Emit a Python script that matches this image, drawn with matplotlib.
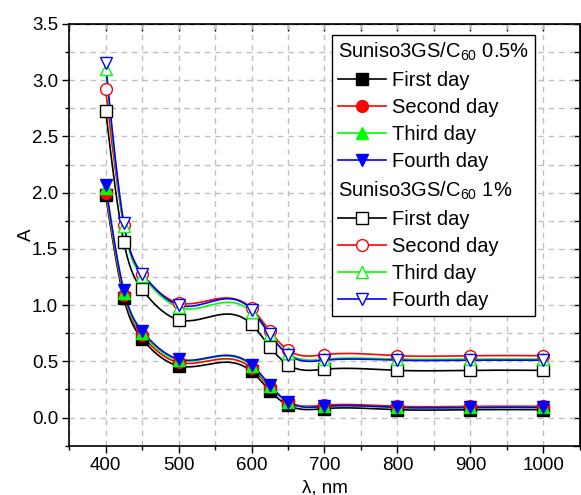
import numpy as np
import matplotlib
matplotlib.use('Agg')
from matplotlib import pyplot as plt
from matplotlib.lines import Line2D
from matplotlib.ticker import MultipleLocator

# wavelength, nm
wl = [400, 425, 450, 500, 600, 625, 650, 700, 800, 900, 1000]

# Suniso3GS/C60 0.5 %
day1_05 = [1.98, 1.06, 0.70, 0.46, 0.41, 0.24, 0.11, 0.08, 0.07, 0.07, 0.07]
day2_05 = [2.00, 1.09, 0.73, 0.49, 0.44, 0.27, 0.14, 0.11, 0.10, 0.10, 0.10]
day3_05 = [2.04, 1.11, 0.75, 0.51, 0.46, 0.28, 0.14, 0.10, 0.09, 0.09, 0.09]
day4_05 = [2.07, 1.13, 0.77, 0.52, 0.47, 0.29, 0.14, 0.10, 0.09, 0.09, 0.09]

# Suniso3GS/C60 1 %
day1_1 = [2.73, 1.56, 1.14, 0.87, 0.83, 0.63, 0.47, 0.43, 0.42, 0.42, 0.42]
day2_1 = [2.92, 1.71, 1.28, 1.02, 0.97, 0.77, 0.60, 0.56, 0.55, 0.55, 0.55]
day3_1 = [3.10, 1.70, 1.26, 0.98, 0.94, 0.74, 0.57, 0.52, 0.52, 0.52, 0.52]
day4_1 = [3.15, 1.73, 1.28, 1.00, 0.96, 0.74, 0.56, 0.51, 0.51, 0.51, 0.51]

day_names = ['First day', 'Second day', 'Third day', 'Fourth day']
colors = ['black', '#ff0000', '#00ff00', '#0000ff']
markers = ['s', 'o', '^', 'v']


def spline(x, y, n=500):
    # natural cubic spline for the connecting line (Origin "Spline")
    x = np.asarray(x, float)
    y = np.asarray(y, float)
    h = np.diff(x)
    m = len(x)
    A = np.zeros((m, m))
    r = np.zeros(m)
    A[0, 0] = A[-1, -1] = 1
    for i in range(1, m - 1):
        A[i, i - 1] = h[i - 1]
        A[i, i] = 2 * (h[i - 1] + h[i])
        A[i, i + 1] = h[i]
        r[i] = 6 * ((y[i + 1] - y[i]) / h[i] - (y[i] - y[i - 1]) / h[i - 1])
    M = np.linalg.solve(A, r)
    xs = np.linspace(x[0], x[-1], n)
    k = np.clip(np.searchsorted(x, xs) - 1, 0, m - 2)
    t0 = x[k + 1] - xs
    t1 = xs - x[k]
    ys = ((M[k] * t0**3 + M[k + 1] * t1**3) / (6 * h[k])
          + (y[k] / h[k] - M[k] * h[k] / 6) * t0
          + (y[k + 1] / h[k] - M[k + 1] * h[k] / 6) * t1)
    return xs, ys


plt.rcParams['font.family'] = ['Liberation Sans', 'DejaVu Sans']
plt.rcParams['mathtext.fontset'] = 'custom'
plt.rcParams['mathtext.rm'] = 'Liberation Sans'
plt.rcParams['mathtext.it'] = 'Liberation Sans'

fig = plt.figure(figsize=(5.81, 4.95), dpi=100)
ax = fig.add_axes([0.119, 0.0996, 0.879, 0.852])

groups = [
    ([day1_05, day2_05, day3_05, day4_05], True),
    ([day1_1, day2_1, day3_1, day4_1], False),
]

handles = []
labels = []
titles = ['Suniso3GS/C$_{60}$ 0.5%', 'Suniso3GS/C$_{60}$ 1%']
for (series, filled), title in zip(groups, titles):
    handles.append(Line2D([], [], ls='none'))
    labels.append(title)
    for y, c, mk, name in zip(series, colors, markers, day_names):
        xs, ys = spline(wl, y)
        ax.plot(xs, ys, color=c, lw=1.2, zorder=2)
        face = c if filled else 'white'
        ax.plot(wl, y, ls='none', marker=mk, ms=8.5, mfc=face, mec=c,
                mew=1.0, zorder=3)
        handles.append(Line2D([], [], color=c, lw=1.2, marker=mk, ms=8.5,
                              mfc=face, mec=c, mew=1.0))
        labels.append(name)

ax.set_xlim(350, 1050)
ax.set_ylim(-0.25, 3.5)
ax.xaxis.set_major_locator(MultipleLocator(100))
ax.xaxis.set_minor_locator(MultipleLocator(50))
ax.yaxis.set_major_locator(MultipleLocator(0.5))
ax.yaxis.set_minor_locator(MultipleLocator(0.25))
ax.yaxis.set_major_formatter(matplotlib.ticker.FormatStrFormatter('%.1f'))

ax.grid(which='both', color='#c0c0c0', ls=(0, (4, 3.5)), lw=1.0, zorder=0)
ax.set_axisbelow(True)

ax.tick_params(which='major', direction='out', length=5, width=1,
               labelsize=13.5, pad=3)
ax.tick_params(which='minor', direction='out', length=3, width=1)
for s in ax.spines.values():
    s.set_linewidth(1.2)

top = ax.secondary_xaxis('top')
top.xaxis.set_major_locator(MultipleLocator(50))
top.tick_params(direction='in', length=5, width=1, labeltop=False)
right = ax.secondary_yaxis('right')
right.yaxis.set_major_locator(MultipleLocator(0.25))
right.tick_params(direction='in', length=5, width=1, labelright=False)

ax.set_xlabel('λ, nm', fontsize=13.5, labelpad=4)
ax.set_ylabel('A', fontsize=13.5, labelpad=-2)

leg = ax.legend(handles, labels, loc='upper right',
                bbox_to_anchor=(0.912, 0.974), borderaxespad=0,
                fontsize=14.5, handlelength=2.4, handletextpad=0.3,
                labelspacing=0.4, borderpad=0.3, fancybox=False,
                framealpha=1, edgecolor='black')
leg.get_frame().set_linewidth(1.0)
# title rows have no handle: drop their handle boxes
rows = leg._legend_handle_box.get_children()[0].get_children()
for i in (0, 5):
    rows[i].get_children().pop(0)

fig.savefig('out.png', dpi=100)
